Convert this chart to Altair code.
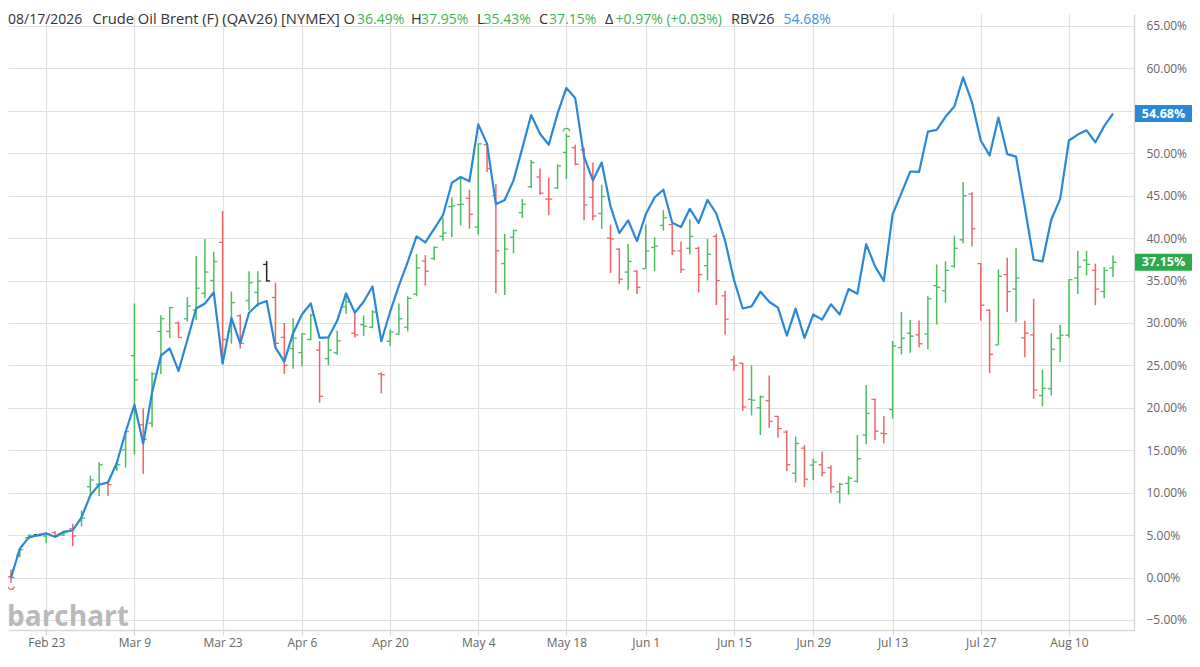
import json
import altair as alt
import pandas as pd

# ---------------- data (percent change) ----------------
start_date = "2026-02-17"
end_date = "2026-08-17"
holidays = ["2026-04-03", "2026-05-25", "2026-06-19", "2026-07-03"]

opens = [
    0.1, 2.6, 4.7, 5.05, 4.9, 5.3, 5.0, 5.75, 6.7, 10.7,
    11.0, 11.1, 12.9, 15.05, 26.15, 18.0, 18.2, 29.0, 29.0, 30.0,
    30.5, 31.5, 33.5, 35.0, 39.5, 29.0, 30.85, 32.65, 33.6, 36.9,
    33.0, 28.3, 27.0, 26.5, 28.05, 26.8, 25.8, 26.5, 31.9, 28.8,
    29.8, 29.5, 24.0, 27.85, 28.7, 29.5, 33.4, 37.3, 37.6, 40.2,
    43.7, 43.95, 44.7, 41.3, 51.0, 45.0, 37.0, 40.1, 43.0, 46.05,
    47.2, 44.6, 45.9, 50.1, 50.65, 50.4, 44.8, 42.9, 40.0, 38.7,
    36.0, 36.1, 36.4, 38.9, 41.5, 41.6, 38.5, 38.8, 38.8, 36.75,
    40.2, 33.2, 25.65, 25.25, 21.0, 20.0, 20.85, 19.0, 17.15, 12.3,
    15.25, 13.25, 13.3, 12.95, 10.1, 11.1, 11.35, 16.8, 21.0, 17.0,
    19.8, 27.1, 28.8, 28.6, 28.7, 34.4, 33.8, 36.7, 39.8, 45.2,
    37.0, 31.5, 27.4, 35.7, 34.0, 28.25, 28.6, 21.45, 22.25, 28.2,
    28.55, 35.3, 37.4, 36.2, 33.7, 36.49,
]
highs = [
    0.95, 3.45, 5.1, 5.1, 5.3, 5.45, 5.55, 6.35, 7.9, 12.0,
    13.6, 11.4, 13.5, 17.35, 32.3, 19.95, 24.2, 30.9, 31.9, 30.15,
    33.05, 37.9, 39.9, 38.4, 43.2, 33.7, 31.0, 36.1, 36.1, 37.3,
    34.75, 30.0, 30.55, 28.8, 31.1, 27.85, 28.3, 29.1, 33.4, 31.1,
    30.9, 31.5, 24.2, 29.2, 32.3, 33.15, 38.1, 38.0, 39.05, 42.4,
    44.8, 47.2, 45.7, 51.15, 51.15, 46.4, 40.5, 40.95, 44.6, 49.2,
    48.2, 47.1, 48.7, 52.3, 51.0, 50.65, 48.9, 46.3, 41.6, 38.8,
    39.3, 36.2, 41.6, 40.1, 43.3, 41.65, 39.6, 42.2, 39.0, 39.9,
    40.5, 33.8, 26.15, 25.3, 25.0, 21.45, 23.8, 19.05, 17.35, 16.6,
    15.6, 14.0, 14.85, 13.2, 11.15, 11.95, 16.8, 22.7, 21.1, 19.05,
    27.9, 31.3, 30.35, 30.3, 33.15, 36.9, 37.25, 40.3, 46.6, 45.4,
    37.06, 31.6, 36.3, 37.7, 38.8, 30.25, 32.85, 24.5, 28.8, 29.8,
    35.15, 38.5, 38.5, 37.0, 36.6, 37.95,
]
lows = [
    -0.65, 2.4, 4.5, 4.85, 4.05, 4.7, 4.9, 3.7, 6.05, 9.6,
    9.6, 9.6, 12.55, 12.95, 14.5, 12.2, 17.7, 24.0, 28.25, 28.25,
    30.15, 30.35, 32.9, 33.6, 25.2, 27.55, 27.0, 31.5, 31.9, 34.9,
    27.0, 24.0, 24.6, 24.9, 27.95, 20.6, 25.0, 26.25, 31.1, 28.3,
    28.45, 29.4, 21.7, 27.3, 28.6, 29.0, 33.15, 34.4, 37.4, 39.7,
    40.1, 41.5, 41.1, 40.4, 47.8, 33.5, 33.3, 38.2, 42.4, 45.9,
    45.1, 42.7, 45.8, 47.0, 48.6, 42.1, 42.1, 41.1, 35.9, 34.6,
    33.9, 33.4, 36.4, 36.1, 40.9, 38.0, 35.9, 38.1, 33.6, 35.0,
    32.1, 28.6, 24.4, 19.65, 19.1, 16.8, 17.65, 16.5, 12.55, 11.2,
    10.65, 11.5, 11.95, 9.95, 8.75, 9.75, 11.2, 15.7, 16.2, 15.8,
    18.75, 26.3, 26.5, 27.1, 26.9, 29.8, 32.4, 36.5, 39.4, 39.0,
    30.25, 24.1, 27.4, 31.3, 30.1, 25.95, 21.05, 20.2, 21.45, 25.4,
    28.25, 33.4, 35.6, 32.1, 32.9, 35.43,
]
closes = [
    0.0, 3.3, 4.95, 4.95, 5.15, 4.85, 5.3, 4.9, 7.0, 11.5,
    13.3, 10.95, 13.3, 17.2, 23.3, 16.3, 24.0, 30.5, 31.8, 28.3,
    32.0, 34.1, 36.0, 37.25, 28.05, 32.4, 27.6, 34.75, 34.95, 34.95,
    27.6, 25.0, 28.2, 28.7, 30.9, 21.35, 26.8, 27.9, 32.5, 28.6,
    29.6, 31.3, 23.9, 28.95, 30.5, 32.9, 36.5, 36.1, 38.9, 40.6,
    43.8, 44.0, 42.8, 51.1, 48.2, 38.5, 38.7, 40.9, 44.0, 48.9,
    45.3, 44.6, 48.5, 52.0, 48.7, 43.9, 42.6, 44.9, 39.9, 35.15,
    37.25, 34.2, 38.5, 39.05, 42.4, 38.5, 36.3, 40.2, 35.7, 38.1,
    35.0, 30.45, 25.0, 20.1, 20.9, 21.3, 18.4, 17.55, 13.3, 15.8,
    11.6, 13.6, 12.35, 10.7, 11.0, 11.7, 14.0, 19.35, 17.25, 16.95,
    27.3, 28.2, 28.45, 27.55, 32.85, 34.2, 36.2, 38.8, 45.0, 41.1,
    32.1, 26.3, 35.5, 33.7, 35.3, 28.8, 22.1, 22.3, 26.9, 28.55,
    35.1, 36.6, 36.9, 34.0, 36.18, 37.15,
]
prior_close = 0.4

rbv = [
    0.0, 3.4, 4.7, 5.0, 5.2, 4.8, 5.4, 5.55, 7.1, 9.7,
    10.95, 11.2, 13.5, 17.15, 20.35, 15.8, 21.8, 26.15, 27.0, 24.35,
    28.0, 31.7, 32.3, 33.6, 25.2, 30.6, 27.6, 31.2, 32.2, 32.6,
    27.1, 25.45, 28.8, 31.0, 32.3, 28.25, 28.3, 30.25, 33.5, 31.2,
    32.5, 34.3, 27.85, 31.3, 34.4, 37.2, 40.2, 39.5, 41.1, 42.7,
    46.5, 47.2, 46.7, 53.4, 51.1, 44.0, 44.5, 46.8, 50.6, 54.5,
    52.3, 51.0, 54.7, 57.7, 56.5, 49.6, 46.8, 48.9, 43.75, 40.6,
    42.1, 39.65, 42.8, 44.8, 45.7, 41.8, 41.3, 43.45, 41.8, 44.5,
    42.9, 39.7, 35.1, 31.7, 31.95, 33.7, 32.5, 31.8, 28.5, 31.7,
    28.25, 31.0, 30.4, 32.2, 31.0, 34.0, 33.45, 39.3, 36.7, 34.95,
    42.8, 45.3, 47.85, 47.8, 52.55, 52.75, 54.3, 55.5, 58.95, 56.0,
    51.5, 49.75, 54.2, 49.9, 49.6, 43.6, 37.45, 37.25, 42.2, 44.6,
    51.5, 52.2, 52.7, 51.3, 53.2, 54.68,
]

tick_dates = ["2026-02-23", "2026-03-09", "2026-03-23", "2026-04-06", "2026-04-20",
              "2026-05-04", "2026-05-18", "2026-06-01", "2026-06-15", "2026-06-29",
              "2026-07-13", "2026-07-27", "2026-08-10"]
tick_labels = ["Feb 23", "Mar 9", "Mar 23", "Apr 6", "Apr 20", "May 4", "May 18",
               "Jun 1", "Jun 15", "Jun 29", "Jul 13", "Jul 27", "Aug 10"]

# event markers (arcs)
arc_low_idx = [0]
arc_low_val = [-1.2]
arc_high_idx = [63]
arc_high_val = [52.75]

# ---------------- build tables ----------------
days = [d.strftime("%Y-%m-%d") for d in pd.bdate_range(start_date, end_date)
        if d.strftime("%Y-%m-%d") not in holidays]
tick_idx = [days.index(d) for d in tick_dates]

prev = [prior_close] + closes[:-1]
dirs = ["up" if c > p else ("down" if c < p else "unch") for c, p in zip(closes, prev)]
bars = pd.DataFrame({"idx": list(range(len(days))), "date": days,
                     "o": opens, "h": highs, "l": lows, "c": closes, "dir": dirs})
line_df = pd.DataFrame({"idx": list(range(len(rbv))), "v": rbv})

GREEN = "#4cbd5e"
RED = "#f06464"
BLUE = "#2b88d9"
BADGE_GREEN = "#2aaa4c"
color_scale = alt.Scale(domain=["up", "down", "unch"], range=[GREEN, RED, "#222222"])

W, H = 1126, 616
FONT = "Open Sans"

xscale = alt.Scale(domain=[-0.34, 127.38], nice=False, zero=False)
yscale = alt.Scale(domain=[-6.18, 66.41], nice=False, zero=False)

label_expr = "%s[indexof(%s, datum.value)]" % (json.dumps(tick_labels), json.dumps(tick_idx))
xaxis = alt.Axis(values=tick_idx, labelExpr=label_expr, title=None, grid=True,
                 gridColor="#e1e1e1", gridWidth=1.2, domainColor="#d6d6d6", domainWidth=1.4,
                 tickColor="#d6d6d6", tickSize=5, tickWidth=1.2, labelFont=FONT,
                 labelFontSize=12, labelColor="#666666", labelPadding=2, labelAngle=0,
                 labelFlush=False, labelOverlap=False)

# labels hidden underneath the last-value badges
badge_vals = [rbv[-1], closes[-1]]
hide_cond = " || ".join("abs(datum.value - %s) < 1.7" % v for v in badge_vals)
y_label_expr = "(%s) ? '' : format(datum.value, '.2f') + '%%'" % hide_cond
yaxis = alt.Axis(orient="right", values=list(range(-5, 70, 5)),
                 labelExpr=y_label_expr, title=None, grid=True,
                 gridColor="#e1e1e1", gridWidth=1.2, ticks=False, domainColor="#d6d6d6",
                 domainWidth=1.4, labelFont=FONT, labelFontSize=12, labelColor="#666666",
                 labelPadding=12, labelFlush=False, labelOverlap=False)


def X(f):
    return alt.X(f, type="quantitative", scale=xscale, axis=xaxis)


def Y(f):
    return alt.Y(f, type="quantitative", scale=yscale, axis=yaxis)


col = alt.Color("dir:N", scale=color_scale, legend=None)

base = alt.Chart(bars)
hl = base.mark_rule(strokeWidth=1.5).encode(x=X("idx"), y=Y("l"), y2="h", color=col)
op = base.transform_calculate(xo="datum.idx - 0.4").mark_rule(strokeWidth=1.3).encode(
    x=X("xo"), x2="idx", y=Y("o"), color=col)
cl = base.transform_calculate(xc="datum.idx + 0.4").mark_rule(strokeWidth=1.3).encode(
    x=X("idx"), x2="xc", y=Y("c"), color=col)

line = alt.Chart(line_df).mark_line(color=BLUE, strokeWidth=2.2, strokeJoin="round").encode(
    x=X("idx"), y=Y("v"))

arc_up_path = "M -1 0.5 A 1 1 0 0 1 1 0.5"
arc_dn_path = "M -1 -0.5 A 1 1 0 0 0 1 -0.5"
arcs_lo = alt.Chart(pd.DataFrame({"idx": arc_low_idx, "v": arc_low_val})).mark_point(
    shape=arc_dn_path, filled=False, size=40, strokeWidth=1.2, color=RED, opacity=1).encode(
    x=X("idx"), y=Y("v"))
arcs_hi = alt.Chart(pd.DataFrame({"idx": arc_high_idx, "v": arc_high_val})).mark_point(
    shape=arc_up_path, filled=False, size=40, strokeWidth=1.2, color=GREEN, opacity=1).encode(
    x=X("idx"), y=Y("v"))


def badge(value, color):
    df = pd.DataFrame({"v": [value], "label": [f"{value:.2f}%"]})
    rect = alt.Chart(df).mark_rule(strokeWidth=17, strokeCap="butt", color=color).encode(
        x=alt.value(W + 1), x2=alt.value(W + 58), y=Y("v"))
    txt = alt.Chart(df).mark_text(
        align="center", baseline="middle", font=FONT, fontSize=12.5, fontWeight="bold",
        color="white").encode(x=alt.value(W + 29.5), y=Y("v"), text="label:N")
    return [rect, txt]


badges = badge(rbv[-1], BLUE) + badge(closes[-1], BADGE_GREEN)

# header text segments
DARK = "#333333"
TGREEN = "#3fb455"
TBLUE = "#3a92e3"
o_last, h_last, l_last, c_last = opens[-1], highs[-1], lows[-1], closes[-1]
delta = c_last - closes[-2]
segments = [
    ("08/17/2026", 0, DARK, 14),
    ("Crude Oil Brent (F) (QAV26) [NYMEX] O", 84.5, DARK, 14.7),
    (f"{o_last:.2f}%", 349, TGREEN, 14),
    ("H", 403, DARK, 14.5),
    (f"{h_last:.2f}%", 413, TGREEN, 14),
    ("L", 469, DARK, 14.5),
    (f"{l_last:.2f}%", 475.5, TGREEN, 14),
    ("C", 531, DARK, 14.5),
    (f"{c_last:.2f}%", 541, TGREEN, 14),
    ("\u0394", 597, DARK, 14.5),
    (f"{delta:+.2f}% (+0.03%)", 607.5, TGREEN, 14),
    ("RBV26", 723, DARK, 14.5),
    (f"{rbv[-1]:.2f}%", 775.5, TBLUE, 14),
]
texts = []
for s, xp, c, fs in segments:
    texts.append(alt.Chart(pd.DataFrame({"t": [s]})).mark_text(
        align="left", baseline="alphabetic", font=FONT, fontSize=fs, color=c).encode(
        x=alt.value(xp), y=alt.value(9.5), text="t:N"))

watermark = alt.Chart(pd.DataFrame({"t": ["barchart"]})).mark_text(
    align="left", baseline="alphabetic", font=FONT, fontSize=28, fontWeight="bold",
    color="#b9b9b9").encode(x=alt.value(-1), y=alt.value(H - 4), text="t:N")

chart = alt.layer(
    hl, op, cl, line, arcs_lo, arcs_hi, watermark, *badges, *texts
).properties(
    width=W, height=H,
    autosize=alt.AutoSizeParams(type="none"),
    padding={"left": 0, "top": 6, "right": 58, "bottom": 22},
    background="white",
).configure_view(stroke=None)

chart.save("out.html", embed_options={"renderer": "svg", "actions": False})
